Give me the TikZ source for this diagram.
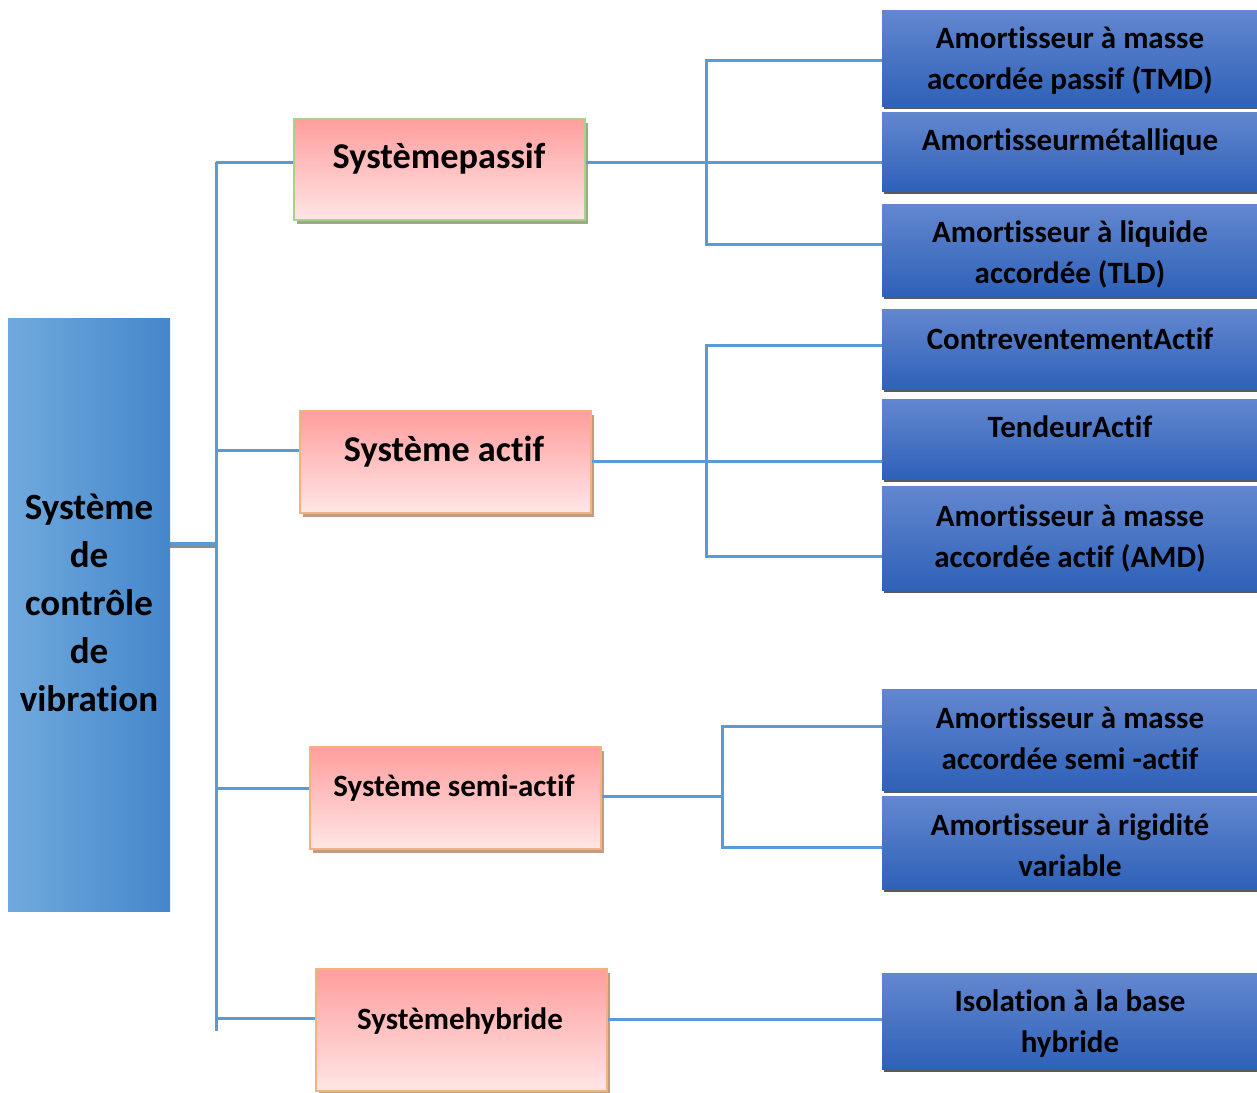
\documentclass[tikz,border=0pt]{standalone}
\usepackage{fontspec}
\setmainfont{Carlito}[Ligatures={NoCommon}]
\usetikzlibrary{shadows}
\definecolor{linkblue}{HTML}{5B9BD5}
\definecolor{leafTop}{HTML}{6387CF}
\definecolor{leafBot}{HTML}{2E61B8}
\definecolor{leafShadow}{HTML}{5A5A5A}
\definecolor{catTop}{HTML}{FF9D9D}
\definecolor{catBot}{HTML}{FFE6E6}
\definecolor{greenEdge}{HTML}{A9D18E}
\definecolor{orangeEdge}{HTML}{F4B183}
\definecolor{greenShadow}{HTML}{9FA88F}
\definecolor{orangeShadow}{HTML}{C39A82}
\definecolor{rootLeft}{HTML}{70A9DD}
\definecolor{rootRight}{HTML}{4587CB}
\definecolor{stubShadow}{HTML}{8C8C8C}
\begin{document}
\begin{tikzpicture}[x=1pt,y=-1pt,
  leafbox/.style={anchor=north west,inner sep=0pt,minimum width=375pt,
    top color=leafTop,bottom color=leafBot,draw=none,
    drop shadow={shadow xshift=2pt,shadow yshift=-3pt,fill=leafShadow,opacity=1}},
  catbox/.style={anchor=north west,inner sep=0pt,minimum width=291pt,
    top color=catTop,bottom color=catBot,line width=2pt},
  passifbox/.style={catbox,draw=greenEdge,
    drop shadow={shadow xshift=3pt,shadow yshift=-4pt,fill=greenShadow,opacity=1}},
  otherbox/.style={catbox,draw=orangeEdge,
    drop shadow={shadow xshift=3pt,shadow yshift=-4pt,fill=orangeShadow,opacity=1}},
  leaftext/.style={anchor=base,align=center,font=\fontsize{31}{41}\selectfont\bfseries},
  roottext/.style={anchor=base,align=center,font=\fontsize{37}{48}\selectfont\bfseries},
  bigtext/.style={anchor=base,align=center,font=\fontsize{36.3}{44}\selectfont\bfseries},
  midtext/.style={anchor=base,align=center,font=\fontsize{31}{41}\selectfont\bfseries},
  link/.style={draw=linkblue,line width=3pt}]

\useasboundingbox[fill=white] (0,0) rectangle (1257,1092);

% root box (text anchored on the baseline of its last line)
\node[anchor=north west,inner sep=0pt,minimum width=162pt,minimum height=593pt,
  left color=rootLeft,right color=rootRight] (root) at (8,318) {};
\node[roottext] (rootT) at (89,711) {Système\\de\\contrôle\\de\\vibration};

% category boxes
\node[passifbox,minimum height=101pt] (p1) at (293,118) {};
\node[otherbox,minimum height=102pt] (p2) at (299,410) {};
\node[otherbox,minimum height=102pt] (p3) at (309,746) {};
\node[otherbox,minimum height=122pt] (p4) at (315,968) {};
\node[bigtext] (p1T) at (439,168) {Systèmepassif};
\node[bigtext] (p2T) at (444,461) {Système actif};
\node[midtext] (p3T) at (454,796) {Système semi-actif};
\node[midtext] (p4T) at (460,1029) {Systèmehybride};

% leaf boxes
\node[leafbox,minimum height=96pt]  (b1) at (882,10) {};
\node[leafbox,minimum height=79pt]  (b2) at (882,112) {};
\node[leafbox,minimum height=92pt]  (b3) at (882,204) {};
\node[leafbox,minimum height=80pt]  (b4) at (882,309) {};
\node[leafbox,minimum height=80pt]  (b5) at (882,399) {};
\node[leafbox,minimum height=104pt] (b6) at (882,486) {};
\node[leafbox,minimum height=101pt] (b7) at (882,689) {};
\node[leafbox,minimum height=93pt]  (b8) at (882,796) {};
\node[leafbox,minimum height=96pt]  (b9) at (882,973) {};
\node[leaftext] (b1T) at (1070,89)  {Amortisseur à masse\\accordée passif (TMD)};
\node[leaftext] (b2T) at (1070,150) {Amortisseurmétallique};
\node[leaftext] (b3T) at (1070,283) {Amortisseur à liquide\\accordée (TLD)};
\node[leaftext] (b4T) at (1070,349) {ContreventementActif};
\node[leaftext] (b5T) at (1070,437) {TendeurActif};
\node[leaftext] (b6T) at (1070,567) {Amortisseur à masse\\accordée actif (AMD)};
\node[leaftext] (b7T) at (1070,769) {Amortisseur à masse\\accordée semi -actif};
\node[leaftext] (b8T) at (1070,876) {Amortisseur à rigidité\\variable};
\node[leaftext] (b9T) at (1070,1052) {Isolation à la base\\hybride};

% junction points
\coordinate (t1) at (216,162);
\coordinate (t2) at (216,450);
\coordinate (t3) at (216,788);
\coordinate (t4) at (216,1018);
\coordinate (tEnd) at (216,1031);
\coordinate (tRoot) at (216,543);
\coordinate (ja) at (706,60);
\coordinate (jb) at (706,162);
\coordinate (jc) at (706,244);
\coordinate (ka) at (706,345);
\coordinate (kb) at (706,461);
\coordinate (kc) at (706,556);
\coordinate (ma) at (722,726);
\coordinate (mb) at (722,796);
\coordinate (mc) at (722,847);
\coordinate (hb) at (706,1019);

% trunk
\draw[link] (t1) -- (tEnd);
\draw[draw=stubShadow,line width=3pt] ([yshift=-3pt]tRoot -| root.east) -- ([yshift=-3pt]tRoot);
\draw[link] (tRoot -| root.east) -- (tRoot);
\draw[link] (t1) -- (t1 -| p1.west);
\draw[link] (t2) -- (t2 -| p2.west);
\draw[link] (t3) -- (t3 -| p3.west);
\draw[link] (t4) -- (t4 -| p4.west);

% passive group
\draw[link] (jb -| p1.east) -- (jb -| b2.west);
\draw[link] (ja -| b1.west) -- (ja) -- (jc) -- (jc -| b3.west);

% active group
\draw[link] (kb -| p2.east) -- (kb -| b5.west);
\draw[link] (ka -| b4.west) -- (ka) -- (kc) -- (kc -| b6.west);

% semi-active group
\draw[link] (mb -| p3.east) -- (mb);
\draw[link] (ma -| b7.west) -- (ma) -- (mc) -- (mc -| b8.west);

% hybrid
\draw[link] (hb -| p4.east) -- (hb -| b9.west);
\end{tikzpicture}
\end{document}
